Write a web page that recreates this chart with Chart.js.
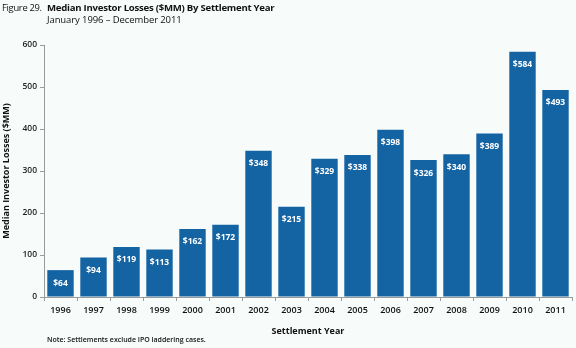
<!DOCTYPE html>
<html>
<head>
<meta charset="utf-8">
<script src="https://cdn.jsdelivr.net/npm/chart.js@4/dist/chart.umd.min.js"></script>
<style>
  html, body { margin: 0; padding: 0; background: #f7fbfa; }
  #wrap { position: relative; width: 576px; height: 348px; font-family: "Open Sans", sans-serif; color: #111; }
  #chart { position: absolute; left: 0; top: 0; }
  .title { position: absolute; left: 2px; top: 0px; font-size: 10px; white-space: nowrap; }
  .title span { display: inline-block; width: 45px; font-size: 9.4px; letter-spacing: -0.3px; }
  .title b { font-weight: 700; font-size: 9.6px; letter-spacing: -0.25px; }
  .sub { position: absolute; left: 47px; top: 13px; font-size: 9.5px; letter-spacing: -0.1px; white-space: nowrap; }
  .note { position: absolute; left: 47px; top: 335px; font-size: 7px; font-weight: 600; white-space: nowrap; }
</style>
</head>
<body>
<div id="wrap">
  <canvas id="chart" width="576" height="348"></canvas>
  <div class="title"><span>Figure 29.</span><b>Median Investor Losses ($MM) By Settlement Year</b></div>
  <div class="sub">January 1996 &ndash; December 2011</div>
  <div class="note">Note: Settlements exclude IPO laddering cases.</div>
</div>
<script>
const years = ['1996', '1997', '1998', '1999', '2000', '2001', '2002', '2003', '2004', '2005', '2006', '2007', '2008', '2009', '2010', '2011'];
const losses = [64, 94, 119, 113, 162, 172, 348, 215, 329, 338, 398, 326, 340, 389, 584, 493];
const yTicks = [0, 100, 200, 300, 400, 500, 600];

const barColor = '#1463a3';
const axisGray = '#9a9a9a';

// white $ labels inside the top of each bar
const barLabels = {
  id: 'barLabels',
  afterDatasetsDraw(chart) {
    const ctx = chart.ctx;
    const meta = chart.getDatasetMeta(0);
    ctx.save();
    ctx.fillStyle = '#ffffff';
    ctx.font = '700 8.5px "Open Sans", sans-serif';
    ctx.textAlign = 'center';
    ctx.textBaseline = 'middle';
    meta.data.forEach((bar, i) => {
      ctx.fillText('$' + losses[i], bar.x, bar.y + 13);
    });
    ctx.restore();
  }
};

new Chart(document.getElementById('chart'), {
  type: 'bar',
  data: {
    labels: years,
    datasets: [{
      data: losses,
      backgroundColor: barColor,
      borderWidth: 0,
      barPercentage: 0.8,
      categoryPercentage: 1.0
    }]
  },
  options: {
    responsive: false,
    animation: false,
    layout: { padding: { top: 45, right: 4, bottom: 0, left: 0 } },
    plugins: {
      legend: { display: false },
      tooltip: { enabled: false },
      title: { display: false }
    },
    scales: {
      x: {
        grid: { drawOnChartArea: false, drawTicks: true, tickLength: 4, color: axisGray, offset: true },
        border: { color: axisGray },
        ticks: { color: '#111', padding: 4, maxRotation: 0, font: { family: 'Open Sans', size: 9, weight: '600' } },
        title: { display: true, text: 'Settlement Year', color: '#111', padding: { top: 0, bottom: 11 }, font: { family: 'Open Sans', size: 9, weight: '700' } },
        afterFit(scale) { scale.height = 51; }
      },
      y: {
        min: 0,
        max: 600,
        afterBuildTicks(scale) { scale.ticks = yTicks.map(v => ({ value: v })); },
        grid: { drawOnChartArea: false, drawTicks: true, tickLength: 4, color: axisGray },
        border: { color: axisGray },
        ticks: { color: '#222', padding: 3, font: { family: 'Open Sans', size: 8.5, weight: '600' } },
        title: { display: true, text: 'Median Investor Losses ($MM)', color: '#111', padding: { top: 1, bottom: 0 }, font: { family: 'Open Sans', size: 9, weight: '700' } },
        afterFit(scale) { scale.width = 44; }
      }
    }
  },
  plugins: [barLabels]
});
</script>
</body>
</html>
